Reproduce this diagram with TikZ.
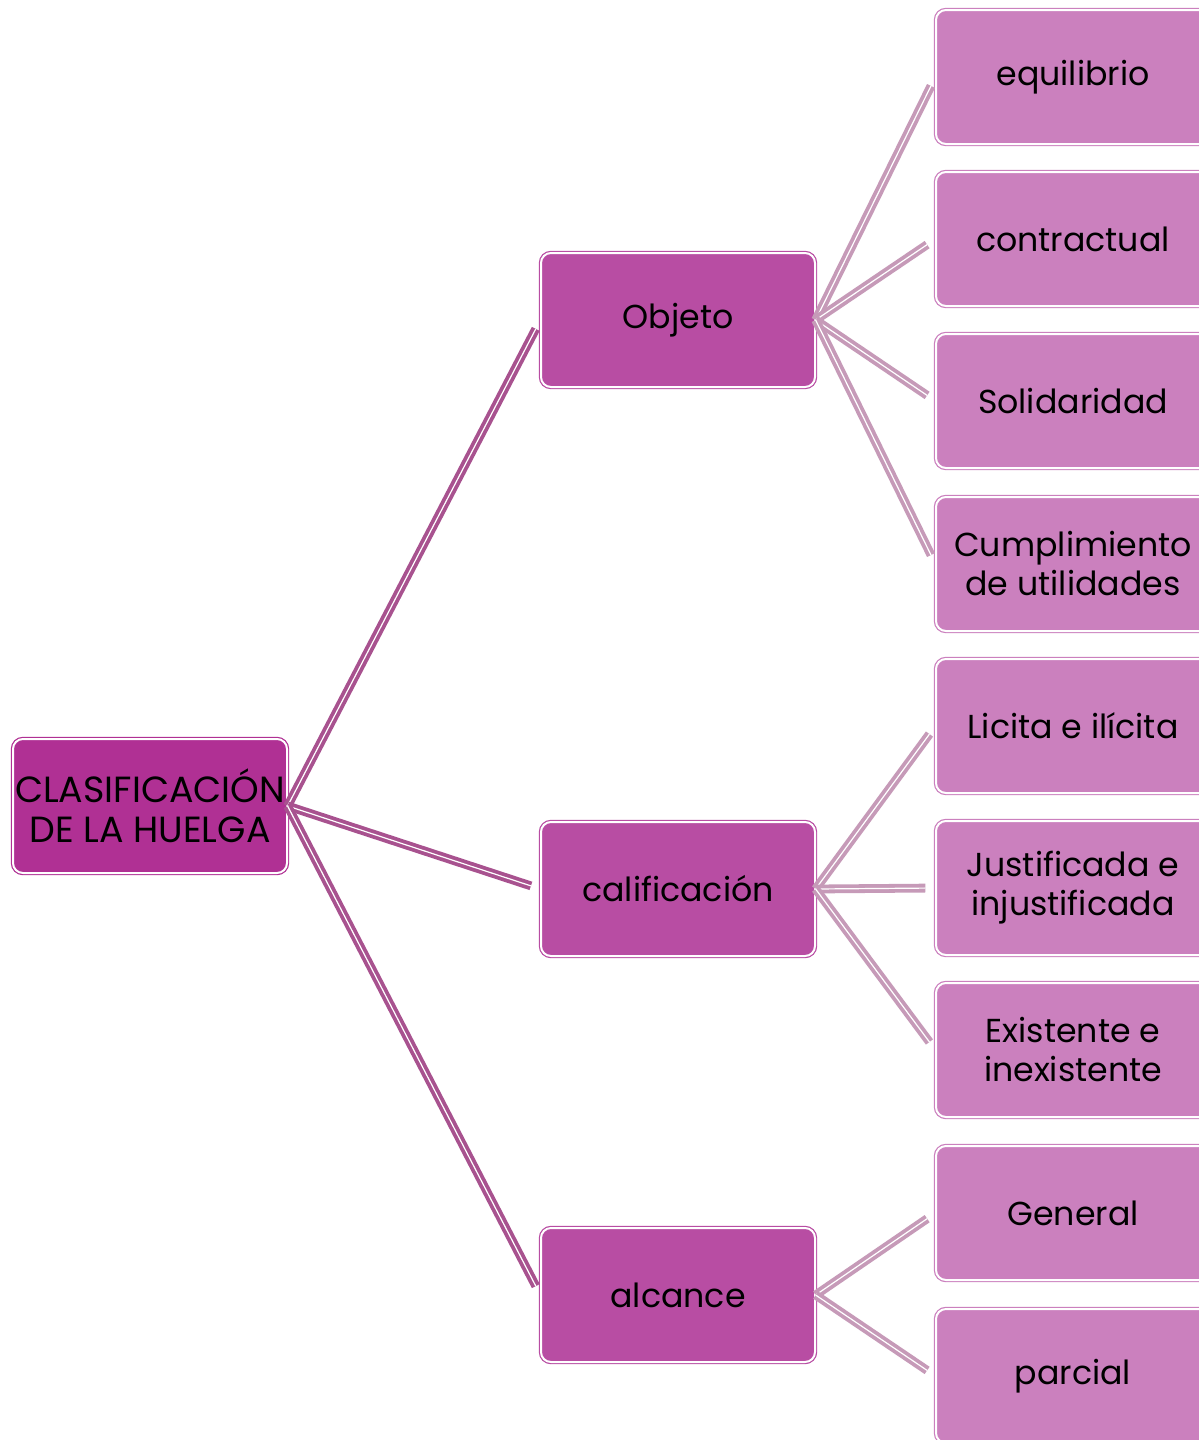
\documentclass[tikz,border=0pt]{standalone}
\usepackage{fontspec}
\setmainfont{Poppins}
\definecolor{rootc}{HTML}{B03094}
\definecolor{midc}{HTML}{B84DA3}
\definecolor{leafc}{HTML}{CB80BE}
\definecolor{linkA}{HTML}{A8528F}
\definecolor{linkB}{HTML}{C69AB8}
\begin{document}
\begin{tikzpicture}[x=0.5pt,y=-0.5pt]
      \tikzstyle{every node}+=[inner sep=0pt, align=center, text=black, font=\fontsize{16.6}{19.5}\selectfont]
      \tikzstyle{box}=[rectangle, rounded corners=5pt, minimum width=137pt, minimum height=67pt, double=white, double distance=1pt, line width=0.6pt]
      \tikzstyle{linkone}=[draw=linkA, line width=1.9pt, double=white, double distance=0.6pt, shorten >=5pt]
      \tikzstyle{linktwo}=[draw=linkB, line width=1.9pt, double=white, double distance=0.6pt, shorten >=5pt]
      \clip (0,0) rectangle (1199,1440);
      \fill [white] (0,0) rectangle (1199,1440);
      % root
      \node [box, fill=rootc, draw=rootc, font=\fontsize{18.2}{20}\selectfont] (huelga) at (150,806) {CLASIFICACIÓN\\DE LA HUELGA};
      % second level
      \node [box, fill=midc, draw=midc] (objeto) at (678,320) {Objeto};
      \node [box, fill=midc, draw=midc] (calif) at (678,889) {calificación};
      \node [box, fill=midc, draw=midc] (alcance) at (678,1295) {alcance};
      % leaves
      \node [box, fill=leafc, draw=leafc] (equil) at (1073,77) {equilibrio};
      \node [box, fill=leafc, draw=leafc] (contr) at (1073,239) {contractual};
      \node [box, fill=leafc, draw=leafc] (solid) at (1073,401) {Solidaridad};
      \node [box, fill=leafc, draw=leafc] (cumpl) at (1073,564) {Cumplimiento\\de utilidades};
      \node [box, fill=leafc, draw=leafc] (licita) at (1073,726) {Licita e ilícita};
      \node [box, fill=leafc, draw=leafc] (justif) at (1073,888) {Justificada e\\injustificada};
      \node [box, fill=leafc, draw=leafc] (exist) at (1073,1050) {Existente e\\inexistente};
      \node [box, fill=leafc, draw=leafc] (gener) at (1073,1213) {General};
      \node [box, fill=leafc, draw=leafc] (parc) at (1073,1376) {parcial};
      % connectors
      \foreach \kid in {objeto,calif,alcance}
        \draw [linkone] (huelga.east) -- (\kid.west);
      \foreach \kid in {equil,contr,solid,cumpl}
        \draw [linktwo] (objeto.east) -- (\kid.west);
      \foreach \kid in {licita,justif,exist}
        \draw [linktwo] (calif.east) -- (\kid.west);
      \foreach \kid in {gener,parc}
        \draw [linktwo] (alcance.east) -- (\kid.west);
    \end{tikzpicture}
\end{document}
